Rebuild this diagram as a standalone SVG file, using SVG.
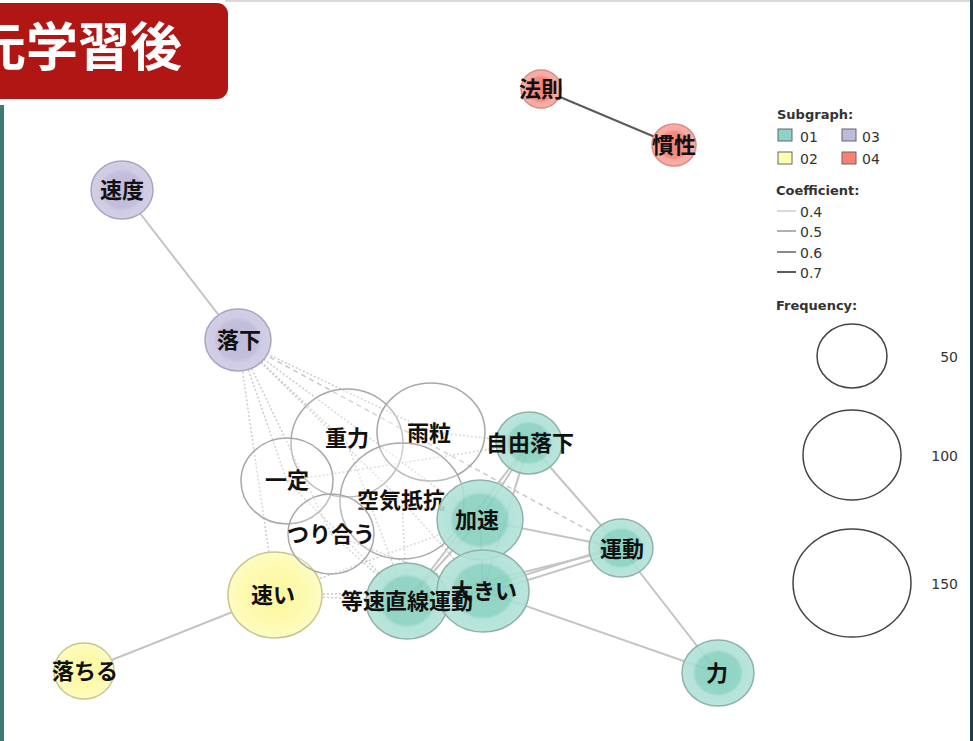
<svg xmlns="http://www.w3.org/2000/svg" width="973" height="741" viewBox="0 0 973 741">
<style>
.lbl{font-family:"Noto Sans CJK JP","Noto Sans CJK SC",sans-serif;font-weight:bold;font-size:22px;fill:#111111;text-anchor:middle}
.lg{font-family:"DejaVu Sans","Noto Sans",sans-serif;fill:#333}
.lgh{font-size:13px;font-weight:bold}
.lgn{font-size:14px}
.solid{stroke:#c4c4c4;stroke-width:2;fill:none}
.dot{stroke:#cccccc;stroke-width:1.5;stroke-dasharray:2 2;fill:none}
.dash{stroke:#c8c8c8;stroke-width:1.5;stroke-dasharray:5 4;fill:none}
.wn{fill:#ffffff;fill-opacity:0.25;stroke:#a8a8a8;stroke-width:1.5}
.tn{fill:url(#gT);fill-opacity:0.9;stroke:#8fb3a9;stroke-width:1.5}
.yn{fill:url(#gY);stroke:#c9c58e;stroke-width:1.5}
.pn{fill:url(#gP);stroke:#a8a5c0;stroke-width:1.5}
.rn{fill:url(#gR);stroke:#d98c85;stroke-width:1.5}
.fc{fill:none;stroke:#444;stroke-width:1.5}
</style>
<defs>
<radialGradient id="gT"><stop offset="0" stop-color="#84cfbd"/><stop offset="0.62" stop-color="#88d1c0"/><stop offset="0.7" stop-color="#ade0d5"/><stop offset="1" stop-color="#b2e2d8"/></radialGradient>
<radialGradient id="gY"><stop offset="0" stop-color="#fbf79f"/><stop offset="0.65" stop-color="#fdfab0"/><stop offset="1" stop-color="#fefcc2"/></radialGradient>
<radialGradient id="gP"><stop offset="0" stop-color="#bfbadb"/><stop offset="0.62" stop-color="#c3bfdd"/><stop offset="0.72" stop-color="#cfcbe4"/><stop offset="1" stop-color="#d3cfe6"/></radialGradient>
<radialGradient id="gR"><stop offset="0" stop-color="#f2837a"/><stop offset="0.62" stop-color="#f38d84"/><stop offset="0.72" stop-color="#f7a8a1"/><stop offset="1" stop-color="#f8b0a9"/></radialGradient>
</defs>
<rect x="0" y="0" width="973" height="741" fill="#ffffff"/>
<rect x="225" y="0" width="748" height="2" fill="#dadada"/>
<rect x="0" y="105" width="4" height="636" fill="#3d7a72"/>
<rect x="970" y="0" width="3" height="741" fill="#1b3e4e"/>
<g id="banner">
<rect x="-20" y="3" width="248" height="96" rx="11" fill="#b01714"/>
<text x="-26" y="66" font-family="Noto Sans CJK JP, Noto Sans CJK SC, sans-serif" font-weight="bold" font-size="52" fill="#ffffff">元学習後</text>
</g>
<g id="connectors">
<line class="solid" x1="122" y1="190" x2="238" y2="340"/>
<line class="solid" x1="84" y1="671" x2="275" y2="595"/>
<line x1="541" y1="89" x2="674" y2="145" stroke="#5a5a5a" stroke-width="2"/>
<line class="solid" x1="529" y1="443" x2="621" y2="548"/>
<line class="solid" x1="621" y1="548" x2="718" y2="673"/>
<line class="solid" x1="483" y1="591" x2="718" y2="673"/>
<line class="solid" x1="480" y1="520" x2="621" y2="548"/>
<line class="solid" x1="483" y1="588" x2="621" y2="545"/>
<line class="solid" x1="483" y1="594" x2="621" y2="551"/>
<line class="solid" x1="407" y1="601" x2="621" y2="548"/>
<line class="solid" x1="529" y1="443" x2="480" y2="520"/>
<line class="solid" x1="529" y1="443" x2="483" y2="591"/>
<line class="solid" x1="529" y1="443" x2="407" y2="601"/>
<line class="solid" x1="480" y1="520" x2="483" y2="591"/>
<line class="solid" x1="480" y1="520" x2="407" y2="601"/>
<line class="solid" x1="483" y1="591" x2="407" y2="601"/>
<line class="dash" x1="238" y1="340" x2="621" y2="548"/>
<line class="dot" x1="238" y1="340" x2="347" y2="443"/>
<line class="dot" x1="238" y1="340" x2="431" y2="432"/>
<line class="dot" x1="238" y1="340" x2="402" y2="501"/>
<line class="dot" x1="238" y1="340" x2="287" y2="481"/>
<line class="dot" x1="238" y1="340" x2="331" y2="534"/>
<line class="dot" x1="238" y1="340" x2="275" y2="595"/>
<line class="dot" x1="238" y1="340" x2="480" y2="520"/>
<line class="dot" x1="275" y1="595" x2="407" y2="601"/>
<line class="dot" x1="275" y1="595" x2="483" y2="591"/>
<line class="dot" x1="275" y1="595" x2="480" y2="520"/>
<line class="dot" x1="287" y1="481" x2="529" y2="443"/>
<line class="dot" x1="287" y1="481" x2="407" y2="601"/>
<line class="dot" x1="431" y1="432" x2="529" y2="443"/>
<line class="dot" x1="402" y1="501" x2="480" y2="520"/>
<line class="dot" x1="402" y1="501" x2="483" y2="591"/>
<line class="dot" x1="402" y1="501" x2="407" y2="601"/>
<line class="dot" x1="331" y1="534" x2="483" y2="591"/>
<line class="dot" x1="331" y1="534" x2="407" y2="601"/>
<line class="dot" x1="347" y1="443" x2="407" y2="601"/>
</g>
<g id="n-houzoku"><ellipse class="rn" cx="541" cy="89" rx="20" ry="19"/><text class="lbl" x="541" y="97">法則</text></g>
<g id="n-kansei"><ellipse class="rn" cx="674" cy="145" rx="22" ry="21"/><text class="lbl" x="674" y="153">慣性</text></g>
<g id="n-sokudo"><ellipse class="pn" cx="122" cy="190" rx="31" ry="29"/><text class="lbl" x="122" y="198">速度</text></g>
<g id="n-rakka"><ellipse class="pn" cx="238" cy="340" rx="33" ry="31"/><text class="lbl" x="239" y="348">落下</text></g>
<g id="n-ochiru"><ellipse class="yn" cx="84" cy="671" rx="30" ry="28"/><text class="lbl" x="85" y="679">落ちる</text></g>
<g id="n-hayai"><ellipse class="yn" cx="275" cy="595" rx="47" ry="43"/><text class="lbl" x="273" y="603">速い</text></g>
<g id="n-juryoku"><ellipse class="wn" cx="347" cy="443" rx="56" ry="54"/><text class="lbl" x="347" y="446">重力</text></g>
<g id="n-amatsubu"><ellipse class="wn" cx="431" cy="432" rx="54" ry="49"/><text class="lbl" x="429" y="441">雨粒</text></g>
<g id="n-ittei"><ellipse class="wn" cx="287" cy="481" rx="46" ry="43"/><text class="lbl" x="287" y="488">一定</text></g>
<g id="n-kuki"><ellipse class="wn" cx="402" cy="501" rx="62" ry="58"/><text class="lbl" x="401" y="508">空気抵抗</text></g>
<g id="n-tsuriau"><ellipse class="wn" cx="331" cy="534" rx="43" ry="40"/><text class="lbl" x="331" y="542">つり合う</text></g>
<g id="n-jiyu"><ellipse class="tn" cx="529" cy="443" rx="33" ry="31"/><text class="lbl" x="530" y="451">自由落下</text></g>
<g id="n-kasoku"><ellipse class="tn" cx="480" cy="520" rx="43" ry="40"/><text class="lbl" x="477" y="528">加速</text></g>
<g id="n-undo"><ellipse class="tn" cx="621" cy="548" rx="32" ry="29"/><text class="lbl" x="622" y="557">運動</text></g>
<g id="n-tousoku"><ellipse class="tn" cx="407" cy="601" rx="41" ry="38"/></g>
<g id="n-ookii"><ellipse class="tn" cx="483" cy="591" rx="46" ry="41"/><text class="lbl" x="484" y="599">大きい</text></g>
<text class="lbl" x="407" y="609">等速直線運動</text>
<g id="n-chikara"><ellipse class="tn" cx="718" cy="673" rx="36" ry="33"/><text class="lbl" x="717" y="681">力</text></g>
<g id="legend" class="lg">
<text class="lgh" x="777" y="119">Subgraph:</text>
<rect x="778" y="129" width="14" height="12" fill="#8dd3c7" stroke="#666" stroke-width="1"/>
<text class="lgn" x="800" y="142">01</text>
<rect x="842" y="129" width="14" height="12" fill="#bebada" stroke="#666" stroke-width="1"/>
<text class="lgn" x="862" y="142">03</text>
<rect x="778" y="152" width="14" height="12" fill="#ffffb3" stroke="#666" stroke-width="1"/>
<text class="lgn" x="800" y="164">02</text>
<rect x="842" y="152" width="14" height="12" fill="#fb8072" stroke="#666" stroke-width="1"/>
<text class="lgn" x="862" y="164">04</text>
<text class="lgh" x="776" y="195">Coefficient:</text>
<line x1="777" y1="211" x2="796" y2="211" stroke="#cccccc" stroke-width="1.5"/>
<text class="lgn" x="800" y="217">0.4</text>
<line x1="777" y1="231" x2="796" y2="231" stroke="#b0b0b0" stroke-width="2"/>
<text class="lgn" x="800" y="237">0.5</text>
<line x1="777" y1="252" x2="796" y2="252" stroke="#8a8a8a" stroke-width="2"/>
<text class="lgn" x="800" y="258">0.6</text>
<line x1="777" y1="272" x2="796" y2="272" stroke="#5a5a5a" stroke-width="2"/>
<text class="lgn" x="800" y="278">0.7</text>
<text class="lgh" x="776" y="310">Frequency:</text>
<ellipse class="fc" cx="852" cy="356" rx="35" ry="32"/>
<text class="lgn" x="958" y="362" text-anchor="end">50</text>
<ellipse class="fc" cx="852" cy="455" rx="49" ry="45"/>
<text class="lgn" x="958" y="461" text-anchor="end">100</text>
<ellipse class="fc" cx="852" cy="583" rx="59" ry="54"/>
<text class="lgn" x="958" y="589" text-anchor="end">150</text>
</g>
</svg>
